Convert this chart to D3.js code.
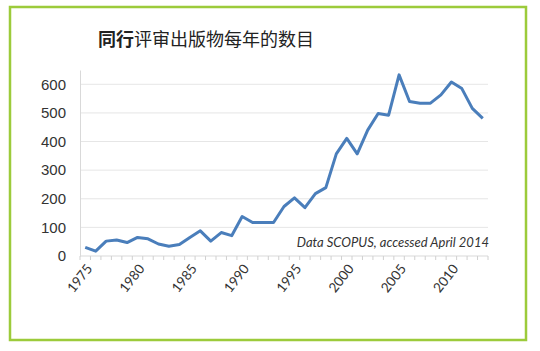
<!DOCTYPE html>
<html>
<head>
<meta charset="utf-8">
<script src="https://cdn.jsdelivr.net/npm/d3@7"></script>
<style>
  body { margin: 0; background: #fff; }
  svg { display: block; font-family: Lato, "Open Sans", sans-serif; }
</style>
</head>
<body>
<div id="chart"></div>
<script>
// data
const years = d3.range(1975, 2014);
const counts = [
  30, 17, 52, 56, 47, 65, 60, 42, 34, 40,
  65, 88, 52, 82, 71, 138, 117, 117, 117, 173,
  203, 169, 218, 239, 357, 411, 357, 440, 498, 492,
  633, 540, 534, 534, 563, 608, 585, 516, 481
];
const yTicks = [0, 100, 200, 300, 400, 500, 600];
const xLabels = [1975, 1980, 1985, 1990, 1995, 2000, 2005, 2010];

const width = 540,
  height = 351,
  margin = { top: 70, right: 52, bottom: 95, left: 80 };

const svg = d3
  .select("#chart")
  .append("svg")
  .attr("width", width)
  .attr("height", height);

// green frame
svg
  .append("rect")
  .attr("x", 10)
  .attr("y", 7)
  .attr("width", 516)
  .attr("height", 333)
  .attr("fill", "#fff")
  .attr("stroke", "#9ccb3b")
  .attr("stroke-width", 2.5);

const x = d3
  .scaleBand()
  .domain(years)
  .range([margin.left, width - margin.right]);

const y = d3
  .scaleLinear()
  .domain([0, 650])
  .range([height - margin.bottom, margin.top]);

// gridlines
svg
  .append("g")
  .selectAll("line")
  .data(yTicks.filter((d) => d > 0))
  .join("line")
  .attr("x1", margin.left)
  .attr("x2", width - margin.right)
  .attr("y1", (d) => y(d))
  .attr("y2", (d) => y(d))
  .attr("stroke", "#e6e6e6")
  .attr("stroke-width", 1);

// y axis
const yAxis = svg
  .append("g")
  .attr("transform", `translate(${margin.left},0)`)
  .call(d3.axisLeft(y).tickValues(yTicks).tickSize(0).tickPadding(14));
yAxis.select(".domain").attr("stroke", "#d9d9d9");
yAxis
  .selectAll("text")
  .attr("fill", "#333")
  .style("font-size", "15px");

// x axis: a tick at every year boundary
const xAxisG = svg
  .append("g")
  .attr("transform", `translate(0,${y(0)})`);
xAxisG
  .append("line")
  .attr("x1", margin.left)
  .attr("x2", width - margin.right)
  .attr("stroke", "#d9d9d9");
xAxisG
  .selectAll("line.tick")
  .data(years.concat([years[years.length - 1] + 1]))
  .join("line")
  .attr("class", "tick")
  .attr("x1", (d, i) => margin.left + i * x.step())
  .attr("x2", (d, i) => margin.left + i * x.step())
  .attr("y1", 0)
  .attr("y2", 4)
  .attr("stroke", "#d0d0d0");
xAxisG
  .selectAll("text")
  .data(xLabels)
  .join("text")
  .attr(
    "transform",
    (d) => `translate(${x(d) + x.bandwidth() / 2 + 4},10) rotate(-52)`
  )
  .attr("text-anchor", "end")
  .attr("dy", "0.35em")
  .attr("fill", "#333")
  .style("font-size", "13.5px")
  .text((d) => d);

// the line
const line = d3
  .line()
  .x((d, i) => x(years[i]) + x.bandwidth() / 2)
  .y((d) => y(d));

svg
  .append("path")
  .datum(counts)
  .attr("d", line)
  .attr("fill", "none")
  .attr("stroke", "#4a7ebb")
  .attr("stroke-width", 3)
  .attr("stroke-linejoin", "round");

// title
const title = svg
  .append("text")
  .attr("x", 98)
  .attr("y", 46)
  .attr("fill", "#222")
  .style("font-family", "'Noto Sans CJK SC', sans-serif")
  .style("font-size", "18px");
title.append("tspan").style("font-weight", "bold").text("同行");
title.append("tspan").text("评审出版物每年的数目");

// source note
svg
  .append("text")
  .attr("x", width - margin.right + 1)
  .attr("y", 247)
  .attr("text-anchor", "end")
  .attr("fill", "#333")
  .style("font-style", "italic")
  .style("font-size", "13px")
  .text("Data SCOPUS, accessed April 2014");
</script>
</body>
</html>
